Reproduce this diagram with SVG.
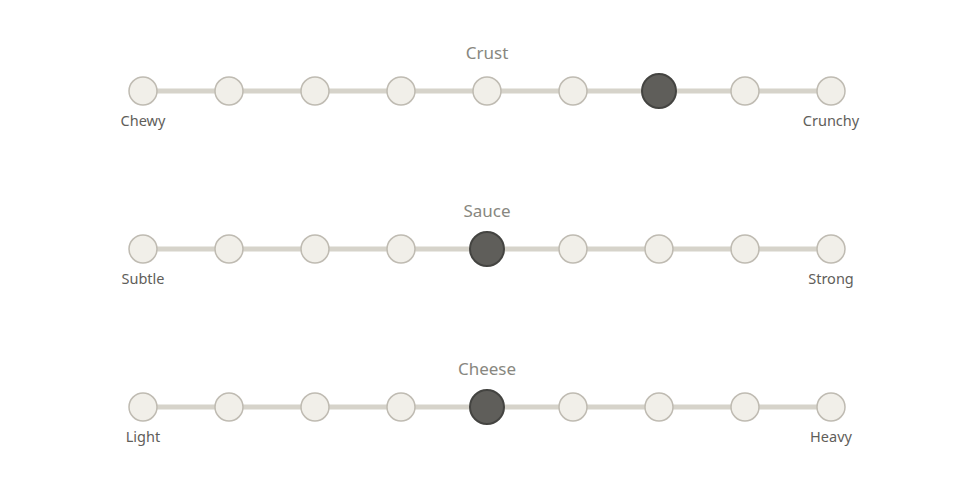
<svg xmlns="http://www.w3.org/2000/svg" width="975" height="488" viewBox="0 0 975 488">
<style>
.track{stroke:#d6d3ca;stroke-width:5}
.dot{fill:#f1efe9;stroke:#bfbbb2;stroke-width:1.5}
.sel{fill:#5f5e5a;stroke:#444441;stroke-width:2}
.title{font-family:"Noto Sans","Open Sans",sans-serif;font-size:17px;fill:#888780;text-anchor:middle}
.lbl{font-family:"Noto Sans","Open Sans",sans-serif;font-size:14.5px;fill:#5f5e5a;text-anchor:middle}
</style>
<rect width="975" height="488" fill="#ffffff"/>
<g id="connectors">
<line class="track" x1="143" y1="91" x2="831" y2="91"/>
<line class="track" x1="143" y1="249" x2="831" y2="249"/>
<line class="track" x1="143" y1="407" x2="831" y2="407"/>
</g>
<g id="crust">
<text class="title" x="487" y="59">Crust</text>
<circle class="dot" cx="143" cy="91" r="14"/>
<circle class="dot" cx="229" cy="91" r="14"/>
<circle class="dot" cx="315" cy="91" r="14"/>
<circle class="dot" cx="401" cy="91" r="14"/>
<circle class="dot" cx="487" cy="91" r="14"/>
<circle class="dot" cx="573" cy="91" r="14"/>
<circle class="sel" cx="659" cy="91" r="17"/>
<circle class="dot" cx="745" cy="91" r="14"/>
<circle class="dot" cx="831" cy="91" r="14"/>
<text class="lbl" x="143" y="126">Chewy</text>
<text class="lbl" x="831" y="126">Crunchy</text>
</g>
<g id="sauce">
<text class="title" x="487" y="217">Sauce</text>
<circle class="dot" cx="143" cy="249" r="14"/>
<circle class="dot" cx="229" cy="249" r="14"/>
<circle class="dot" cx="315" cy="249" r="14"/>
<circle class="dot" cx="401" cy="249" r="14"/>
<circle class="sel" cx="487" cy="249" r="17"/>
<circle class="dot" cx="573" cy="249" r="14"/>
<circle class="dot" cx="659" cy="249" r="14"/>
<circle class="dot" cx="745" cy="249" r="14"/>
<circle class="dot" cx="831" cy="249" r="14"/>
<text class="lbl" x="143" y="284">Subtle</text>
<text class="lbl" x="831" y="284">Strong</text>
</g>
<g id="cheese">
<text class="title" x="487" y="375">Cheese</text>
<circle class="dot" cx="143" cy="407" r="14"/>
<circle class="dot" cx="229" cy="407" r="14"/>
<circle class="dot" cx="315" cy="407" r="14"/>
<circle class="dot" cx="401" cy="407" r="14"/>
<circle class="sel" cx="487" cy="407" r="17"/>
<circle class="dot" cx="573" cy="407" r="14"/>
<circle class="dot" cx="659" cy="407" r="14"/>
<circle class="dot" cx="745" cy="407" r="14"/>
<circle class="dot" cx="831" cy="407" r="14"/>
<text class="lbl" x="143" y="442">Light</text>
<text class="lbl" x="831" y="442">Heavy</text>
</g>
</svg>
